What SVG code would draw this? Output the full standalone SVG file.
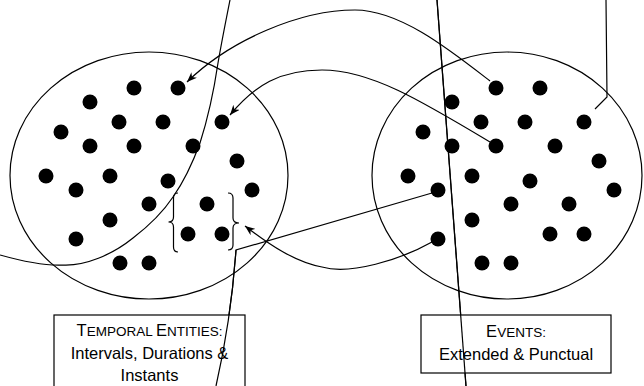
<svg xmlns="http://www.w3.org/2000/svg" xmlns:xlink="http://www.w3.org/1999/xlink" width="644" height="386" viewBox="0 0 644 386">
<style>
.ln{fill:none;stroke:#000;stroke-width:1.2}
.dot{fill:#000}
.box{fill:#fff;stroke:#000;stroke-width:1.2}
.tx{font-family:"Liberation Sans",Arial,sans-serif;font-size:16.5px;fill:#000;text-anchor:middle}
.sc{font-size:13.5px}
</style>
<defs>
<marker id="ah" viewBox="0 0 10 8" refX="10" refY="4" markerWidth="10" markerHeight="8" markerUnits="userSpaceOnUse" orient="auto">
<path d="M0,0 L10,4 L0,8 L3,4 z" fill="#000"/>
</marker>
<g id="dots">
<circle class="dot" cx="134" cy="88" r="7.5"/>
<circle class="dot" cx="178" cy="88" r="7.5"/>
<circle class="dot" cx="90" cy="102" r="7.5"/>
<circle class="dot" cx="119" cy="122" r="7.5"/>
<circle class="dot" cx="163" cy="122" r="7.5"/>
<circle class="dot" cx="222" cy="122" r="7.5"/>
<circle class="dot" cx="61" cy="132" r="7.5"/>
<circle class="dot" cx="90" cy="146" r="7.5"/>
<circle class="dot" cx="134" cy="146" r="7.5"/>
<circle class="dot" cx="193" cy="146" r="7.5"/>
<circle class="dot" cx="237" cy="161" r="7.5"/>
<circle class="dot" cx="46" cy="176" r="7.5"/>
<circle class="dot" cx="110" cy="176" r="7.5"/>
<circle class="dot" cx="168" cy="181" r="7.5"/>
<circle class="dot" cx="76" cy="190" r="7.5"/>
<circle class="dot" cx="252" cy="190" r="7.5"/>
<circle class="dot" cx="149" cy="204" r="7.5"/>
<circle class="dot" cx="207" cy="204" r="7.5"/>
<circle class="dot" cx="110" cy="220" r="7.5"/>
<circle class="dot" cx="188" cy="234" r="7.5"/>
<circle class="dot" cx="222" cy="234" r="7.5"/>
<circle class="dot" cx="76" cy="239" r="7.5"/>
<circle class="dot" cx="120" cy="263" r="7.5"/>
<circle class="dot" cx="149" cy="263" r="7.5"/>
</g>
</defs>
<rect width="644" height="386" fill="#fff"/>
<g id="temporal-entities">
<ellipse class="ln" cx="149" cy="175.5" rx="139" ry="123.5"/>
<use xlink:href="#dots" href="#dots"/>
<path class="ln" d="M178,193 Q173.5,193 173.5,198 L173.5,217 Q173.5,222 168.5,222 Q173.5,222 173.5,227 L173.5,247 Q173.5,252 178,252"/>
<path class="ln" d="M228,193 Q233,193 233,198 L233,218 Q233,223 239,223 Q233,223 233,228 L233,245 Q233,250 228,250"/>
</g>
<g id="events">
<ellipse class="ln" cx="507" cy="175.5" rx="135" ry="123.5"/>
<use xlink:href="#dots" href="#dots" transform="translate(362,0)"/>
</g>
<g id="connectors">
<path class="ln" d="M0,255 C25,262 45,266 63,265 C85,266 112,255 133,238 C150,225 163,212 173,197 C185,180 193,162 200,143 C208,118 214,90 218,63 C222,40 226,20 230,0"/>
<path class="ln" d="M437,0 L466,386"/>
<path class="ln" d="M606,0 L607,97 L595,109"/>
<path class="ln" marker-end="url(#ah)" d="M490,81 C450,50 400,10 355,10 C300,10 230,40 187,82"/>
<path class="ln" marker-end="url(#ah)" d="M490,142 C420,100 370,70 322,70 C280,70 255,85 230,115"/>
<path class="ln" marker-end="url(#ah)" d="M432,242 C400,260 350,275 322,267 C295,262 270,245 245,226"/>
<path class="ln" d="M432,193 L236,250 Q231,320 216,386"/>
</g>
<g id="label-temporal">
<rect class="box" x="54" y="315" width="191" height="75"/>
<text class="tx" x="149.5" y="336">T<tspan class="sc">EMPORAL </tspan>E<tspan class="sc">NTITIES:</tspan></text>
<text class="tx" x="149.5" y="359">Intervals, Durations &amp;</text>
<text class="tx" x="149.5" y="381">Instants</text>
</g>
<g id="label-events">
<rect class="box" x="421" y="315" width="190" height="58"/>
<text class="tx" x="516" y="337">E<tspan class="sc">VENTS:</tspan></text>
<text class="tx" x="516" y="360">Extended &amp; Punctual</text>
</g>
<g id="overlay">
<path class="ln" d="M236,250 Q231,320 216,386"/>
<path class="ln" d="M437,0 L466,386"/>
</g>
</svg>
